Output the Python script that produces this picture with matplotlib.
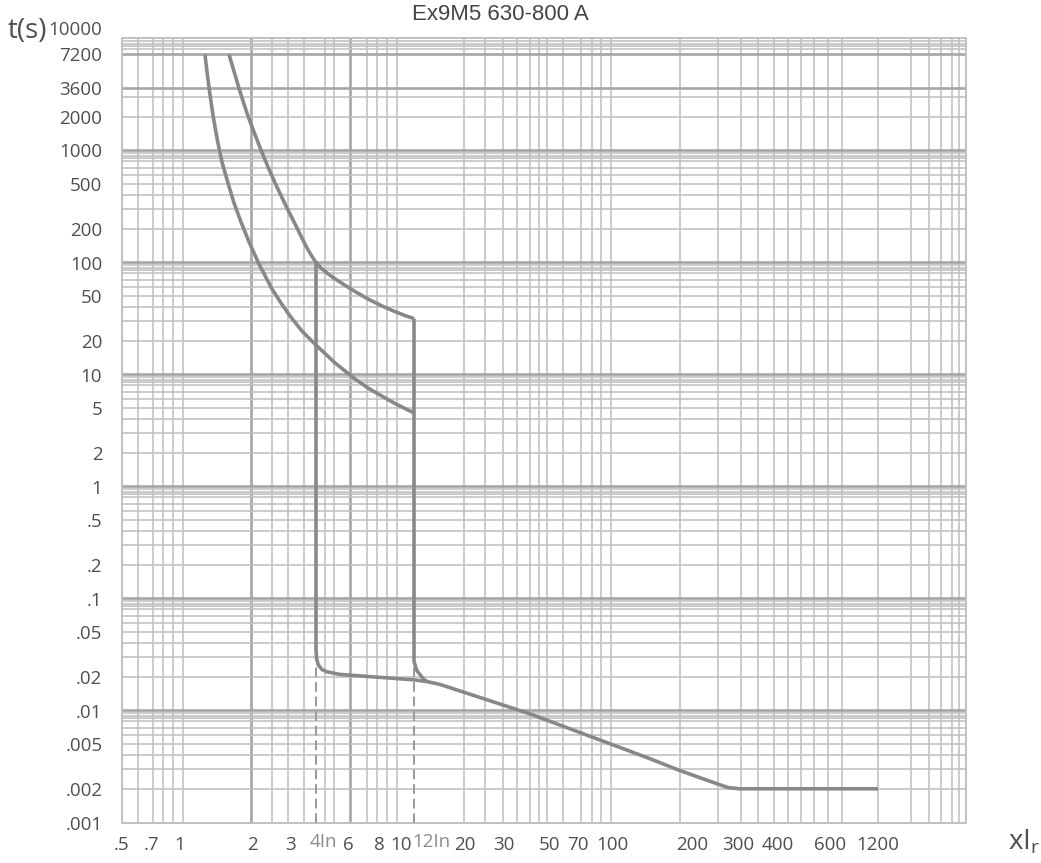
# Time-current curve, Ex9M5 630-800 A

import numpy as np
import matplotlib
matplotlib.use('Agg')
import matplotlib.pyplot as plt

# ---- data (multiples of Ir, time in s) ----
x_ticks = [0.5, 0.7, 1, 2, 3, 4, 6, 8, 10, 12, 20, 30, 50, 70, 100, 200, 300, 400, 600, 1200]
x_labels = ['.5', '.7', '1', '2', '3', '4In', '6', '8', '10', '12In', '20', '30', '50', '70',
            '100', '200', '300', '400', '600', '1200']
y_ticks = [10000, 7200, 3600, 2000, 1000, 500, 200, 100, 50, 20, 10, 5, 2, 1,
           0.5, 0.2, 0.1, 0.05, 0.02, 0.01, 0.005, 0.002, 0.001]
y_labels = ['10000', '7200', '3600', '2000', '1000', '500', '200', '100', '50', '20', '10', '5', '2', '1',
            '.5', '.2', '.1', '.05', '.02', '.01', '.005', '.002', '.001']

# thermal curve, lower band
lo_x = [1.272, 1.297, 1.335, 1.380, 1.435, 1.498, 1.587, 1.682, 1.799, 1.944, 2.150, 2.462,
        2.704, 2.969, 3.404, 4.0, 5.09, 6.40, 7.225, 8.08, 9.51, 12]
lo_t = [7200, 5023, 3131, 1950, 1216, 789, 513, 340, 230, 152.5, 97.0, 58.0,
        43.5, 33.3, 24.4, 18.3, 12.7, 9.12, 7.57, 6.56, 5.45, 4.53]
# thermal curve, upper band
hi_x = [1.603, 1.666, 1.748, 1.834, 1.924, 2.042, 2.196, 2.362, 2.567, 2.849, 3.178, 3.565,
        3.776, 4.0, 4.263, 4.598, 4.961, 5.632, 6.40, 7.225, 8.25, 9.51, 10.73, 12]
hi_t = [7200, 5455, 3845, 2767, 2032, 1463, 1010, 713, 492, 319, 212, 140,
        117, 100, 89.3, 80.6, 73.5, 64.3, 55.1, 47.2, 40.9, 36.1, 33.3, 31.6]
# magnetic trip at 4In, then instantaneous part
mag_x = [4, 4, 4.03, 4.12, 4.32, 4.58, 5.42, 11.9, 13.63, 15.6, 40, 139, 180, 249, 275, 304, 1200]
mag_t = [100, 0.035, 0.029, 0.0255, 0.0232, 0.0222, 0.021, 0.0188, 0.01815, 0.01707, 0.00934,
         0.00371, 0.00291, 0.00222, 0.00205, 0.002, 0.002]
# magnetic trip at 12In
mag12_x = [12, 12, 12.33, 13.17, 13.63]
mag12_t = [31.6, 0.0275, 0.0228, 0.0192, 0.01815]
# dashed setting markers
dash_x = [4, 12]
dash_top = [0.025, 0.026]

# ---- x axis scale: where each tick sits along the paper (pixels) ----
anchor_px = [121.7, 151, 180, 252, 291, 316, 348, 379, 401, 414, 465, 504, 550, 578, 612, 692, 738, 778, 830, 878]
LX = np.log10(x_ticks)
PX = np.array(anchor_px)


def fwd(v):
    lv = np.log10(np.clip(np.asarray(v, dtype=float), 1e-12, None))
    out = np.interp(lv, LX, PX)
    s0 = (PX[1] - PX[0]) / (LX[1] - LX[0])
    s1 = (PX[-1] - PX[-2]) / (LX[-1] - LX[-2])
    out = np.where(lv < LX[0], PX[0] + (lv - LX[0]) * s0, out)
    out = np.where(lv > LX[-1], PX[-1] + (lv - LX[-1]) * s1, out)
    return out


def inv(p):
    p = np.asarray(p, dtype=float)
    out = np.interp(p, PX, LX)
    s0 = (LX[1] - LX[0]) / (PX[1] - PX[0])
    s1 = (LX[-1] - LX[-2]) / (PX[-1] - PX[-2])
    out = np.where(p < PX[0], LX[0] + (p - PX[0]) * s0, out)
    out = np.where(p > PX[-1], LX[-1] + (p - PX[-1]) * s1, out)
    return 10 ** out


# vertical grid of the paper (pixels), heavy ones separately
grid_x_px = [137.7, 153.3, 163.3, 173.3, 183.3, 271.7, 288.3, 304, 325, 334, 366.7, 376.7, 386.7, 397.3,
             464, 485, 502.7, 517.3, 530, 539.3, 546.7, 563.3, 580.7, 591.7, 600.7, 610.7, 680,
             717.7, 741, 757.7, 774.3, 787.7, 801, 814.3, 827.7, 841.7, 878.3, 910.7, 929, 940.7,
             951.7, 959.3]
grid_x_px_heavy = [250.7, 350]
right_px = 966

# horizontal grid
grid_y = [m * 10.0 ** k for k in range(-3, 3) for m in (2, 3, 4, 5, 6, 7, 8, 8.5, 9, 9.5)]
grid_y += [2000, 3000, 8000, 8500, 9000, 9500]
grid_y_heavy = [0.01, 0.1, 1, 10, 100, 1000, 3600, 7200]

W, H = 1041, 863
fig = plt.figure(figsize=(W / 100, H / 100), dpi=100)
ax = fig.add_axes([121.7 / W, 1 - 822.5 / H, (right_px - 121.7) / W, (822.5 - 38.5) / H])

ax.set_xscale('function', functions=(fwd, inv))
ax.set_yscale('log')
ax.set_xlim(0.5, float(inv(right_px)))
ax.set_ylim(0.001, 10000)

thin = dict(color='#c0c0c0', lw=1.15, zorder=1)
heavy = dict(color='#a6a6a6', lw=1.9, zorder=1)
for p in grid_x_px:
    ax.axvline(float(inv(p)), **thin)
for p in grid_x_px_heavy:
    ax.axvline(float(inv(p)), **heavy)
for y in grid_y:
    ax.axhline(y, **thin)
for y in grid_y_heavy:
    ax.axhline(y, **heavy)

curve = dict(color='#888888', lw=2.6, solid_capstyle='butt', solid_joinstyle='round', zorder=4)
ax.plot(lo_x, lo_t, **curve)
ax.plot(hi_x, hi_t, **curve)
ax.plot(mag_x, mag_t, **curve)
ax.plot(mag12_x, mag12_t, **curve)
for xd, td in zip(dash_x, dash_top):
    ax.plot([xd, xd], [0.001, td], color='#999999', lw=1.4, ls=(0, (5, 2.5)), zorder=3)

for s in ax.spines.values():
    s.set_color('#c0c0c0')
    s.set_linewidth(1.4)

tick_font = 'Open Sans'
txt = '#4f4f4f'
fs = 13.5
ax.set_xticks(x_ticks)
ax.set_xticklabels(['' if 'In' in l else l for l in x_labels])
ax.set_yticks(y_ticks)
ax.set_yticklabels(['' if l == '10000' else l for l in y_labels])
ax.minorticks_off()
ax.tick_params(length=0, labelsize=fs, labelcolor=txt)
ax.tick_params(axis='y', pad=14)
ax.tick_params(axis='x', pad=10)
for lbl in ax.get_xticklabels() + ax.get_yticklabels():
    lbl.set_fontfamily(tick_font)

# the two setting labels start at their lines, in a lighter grey
shift = {'4In': -4.5, '12In': -1.5}
for xv, lab in zip(x_ticks, x_labels):
    if 'In' in lab:
        ax.annotate(lab, xy=(xv, 0), xycoords=('data', 'axes fraction'),
                    xytext=(shift[lab], -7.2), textcoords='offset points', ha='left', va='top',
                    fontsize=fs, color='#8c8c8c', family=tick_font)

# top label sits a little above the frame
ax.annotate('10000', xy=(0, 10000), xycoords=('axes fraction', 'data'),
            xytext=(-14, 6), textcoords='offset points', ha='right', va='center',
            fontsize=fs, color=txt, family=tick_font)
fig.text(8 / W, 1 - 31 / H, 't(s)', fontsize=20, color=txt, family=tick_font,
         ha='left', va='center')
fig.text(1008 / W, 1 - 842 / H, 'xI$_\\mathregular{r}$', fontsize=20, color=txt,
         family=tick_font, ha='left', va='center')
fig.text(500 / W, 1 - 14 / H, 'Ex9M5 630-800 A', fontsize=16, color='#444444',
         family='Liberation Sans', ha='center', va='center')

fig.savefig('out.png', dpi=100)
